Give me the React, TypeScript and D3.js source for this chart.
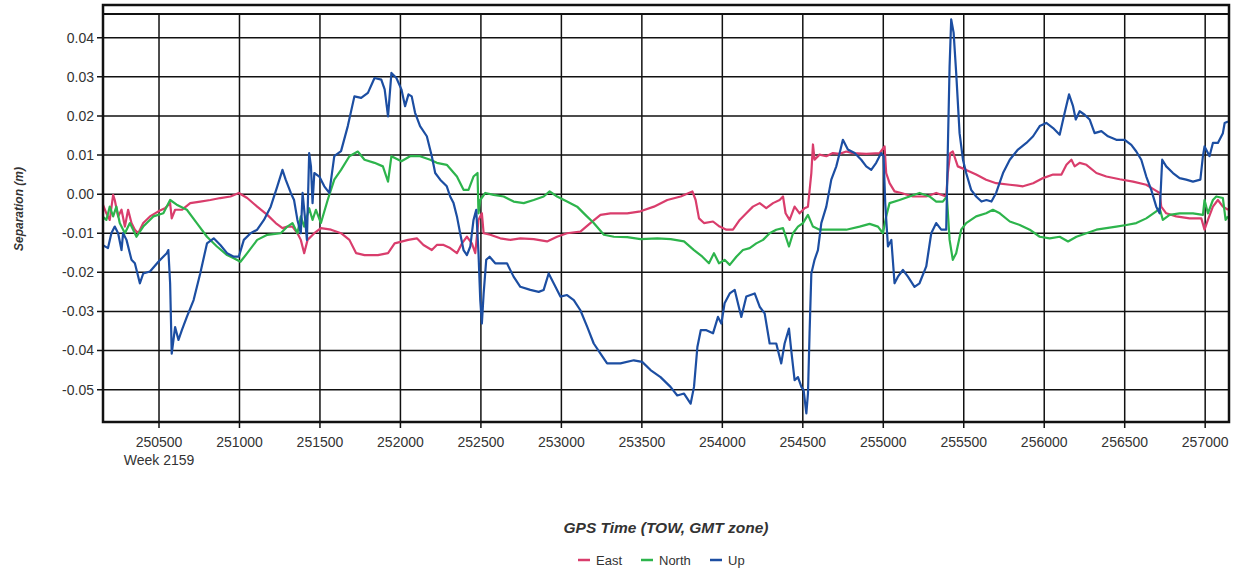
import React from "react";
import * as d3 from "d3";

const eastData: [number, number][] = [
  [250148,-0.0023],[250173,-0.0049],[250194,-0.0066],[250215,-0.0002],[250225,-0.0015],[250246,-0.0057],
  [250267,-0.004],[250288,-0.0083],[250308,-0.004],[250329,-0.0074],[250350,-0.0091],[250371,-0.010],
  [250402,-0.0074],[250444,-0.0057],[250496,-0.0044],[250537,-0.0036],[250569,-0.0023],[250579,-0.0062],
  [250600,-0.004],[250642,-0.004],[250694,-0.0023],[250756,-0.0019],[250819,-0.0015],[250881,-0.001],
  [250944,-0.0006],[250996,0.0003],[251048,-0.001],[251110,-0.0032],[251173,-0.0053],[251225,-0.0074],
  [251267,-0.0087],[251298,-0.0083],[251329,-0.0083],[251360,-0.010],[251381,-0.0117],[251402,-0.0151],
  [251423,-0.0117],[251465,-0.010],[251506,-0.0087],[251569,-0.0091],[251631,-0.010],[251683,-0.0117],
  [251725,-0.0151],[251777,-0.0156],[251860,-0.0156],[251923,-0.0151],[251964,-0.0126],[252048,-0.0117],
  [252102,-0.0113],[252143,-0.013],[252195,-0.0143],[252226,-0.013],[252268,-0.013],[252309,-0.0138],
  [252351,-0.0151],[252382,-0.0126],[252413,-0.0109],[252444,-0.0126],[252465,-0.0151],[252485,-0.0066],
  [252506,-0.0049],[252517,-0.010],[252558,-0.0104],[252620,-0.0113],[252683,-0.0117],[252745,-0.0113],
  [252828,-0.0115],[252911,-0.0121],[252973,-0.0109],[253035,-0.010],[253118,-0.0096],[253180,-0.0074],
  [253243,-0.0053],[253305,-0.0049],[253409,-0.0049],[253492,-0.0044],[253575,-0.0032],[253658,-0.0015],
  [253741,-0.0006],[253814,0.0007],[253834,-0.0015],[253855,-0.0062],[253886,-0.0074],[253942,-0.007],
  [253983,-0.0083],[254025,-0.0091],[254066,-0.0091],[254108,-0.0066],[254149,-0.0049],[254190,-0.0032],
  [254232,-0.0023],[254273,-0.0036],[254315,-0.0023],[254356,-0.0015],[254377,-0.0006],[254393,-0.0049],
  [254418,-0.0066],[254449,-0.0032],[254480,-0.0049],[254511,-0.0036],[254532,-0.0032],[254553,0.0054],
  [254563,0.0127],[254573,0.0088],[254604,0.0101],[254646,0.0097],[254687,0.0105],[254729,0.0103],
  [254770,0.0109],[254811,0.0105],[254894,0.0103],[254977,0.0105],[255008,0.0122],[255018,0.0054],
  [255039,0.0028],[255070,0.0007],[255112,0.0003],[255184,-0.0006],[255267,-0.0006],[255329,0.0003],
  [255391,-0.0006],[255401,0.0054],[255416,0.0105],[255432,0.0109],[255463,0.0071],[255515,0.0062],
  [255577,0.005],[255639,0.0037],[255701,0.0028],[255786,0.0024],[255868,0.002],[255931,0.0028],
  [255993,0.0041],[256055,0.005],[256107,0.005],[256138,0.0075],[256169,0.0088],[256189,0.0071],
  [256220,0.008],[256262,0.0075],[256324,0.0054],[256386,0.0045],[256469,0.0038],[256552,0.0032],
  [256634,0.0024],[256686,0.0011],[256717,0.0003],[256727,-0.0032],[256758,-0.0049],[256820,-0.0057],
  [256903,-0.0062],[256976,-0.0062],[256996,-0.0091],[257017,-0.0066],[257048,-0.0032],[257079,-0.0015],
  [257110,-0.0032],[257142,-0.004],
];

const northData: [number, number][] = [
  [250148,-0.0057],[250173,-0.0066],[250194,-0.0032],[250215,-0.0057],[250235,-0.0032],[250256,-0.0074],
  [250288,-0.010],[250319,-0.0074],[250360,-0.0109],[250402,-0.0083],[250465,-0.0057],[250527,-0.0049],
  [250569,-0.0015],[250610,-0.0027],[250673,-0.004],[250735,-0.0074],[250798,-0.0109],[250860,-0.0134],
  [250923,-0.0156],[250965,-0.0164],[251006,-0.0173],[251048,-0.0151],[251110,-0.0117],[251173,-0.0104],
  [251256,-0.010],[251298,-0.0083],[251329,-0.0074],[251360,-0.010],[251381,-0.0057],[251402,-0.0083],
  [251433,-0.0036],[251454,-0.0066],[251475,-0.004],[251506,-0.0074],[251548,-0.0015],[251589,0.0037],
  [251631,0.0062],[251683,0.0097],[251735,0.0109],[251777,0.0088],[251839,0.008],[251891,0.0071],
  [251923,0.0032],[251944,0.0097],[252006,0.0084],[252060,0.0097],[252122,0.0097],[252185,0.0088],
  [252226,0.008],[252288,0.0075],[252351,0.0045],[252392,0.0011],[252423,0.0011],[252454,0.0045],
  [252479,0.0054],[252485,-0.0049],[252496,-0.0015],[252527,0.0003],[252579,-0.0002],[252641,-0.0006],
  [252703,-0.0019],[252766,-0.0023],[252828,-0.0015],[252890,-0.0006],[252927,0.0007],[252973,-0.0006],
  [253035,-0.0019],[253098,-0.0032],[253149,-0.0053],[253201,-0.0074],[253264,-0.0104],[253326,-0.0109],
  [253409,-0.011],[253492,-0.0115],[253596,-0.0113],[253679,-0.0115],[253762,-0.0121],[253824,-0.0143],
  [253876,-0.016],[253917,-0.0177],[253948,-0.0151],[253979,-0.0177],[254014,-0.0168],[254046,-0.0181],
  [254087,-0.016],[254128,-0.0143],[254170,-0.0138],[254211,-0.0126],[254253,-0.0117],[254294,-0.010],
  [254335,-0.0091],[254377,-0.0087],[254414,-0.0134],[254439,-0.010],[254470,-0.0083],[254501,-0.0074],
  [254532,-0.0053],[254563,-0.0083],[254604,-0.0091],[254687,-0.0091],[254770,-0.0091],[254853,-0.0083],
  [254915,-0.0076],[254967,-0.0083],[254998,-0.010],[255018,-0.0057],[255039,-0.0023],[255101,-0.0015],
  [255163,-0.0006],[255225,0.0003],[255287,-0.0006],[255329,-0.0019],[255370,-0.0019],[255395,-0.0006],
  [255412,-0.0117],[255432,-0.0168],[255453,-0.0151],[255484,-0.0091],[255515,-0.0074],[255577,-0.0057],
  [255639,-0.0049],[255681,-0.004],[255724,-0.0049],[255786,-0.007],[255848,-0.0079],[255910,-0.0091],
  [255972,-0.0109],[256034,-0.0113],[256096,-0.0109],[256148,-0.0121],[256200,-0.0109],[256262,-0.010],
  [256324,-0.0091],[256386,-0.0087],[256448,-0.0083],[256510,-0.0079],[256572,-0.0074],[256634,-0.0062],
  [256696,-0.0044],[256717,-0.0036],[256737,-0.0066],[256779,-0.0053],[256841,-0.0049],[256924,-0.0049],
  [256986,-0.0053],[256996,-0.0015],[257017,-0.0049],[257048,-0.0015],[257069,-0.0006],[257110,-0.001],
  [257127,-0.0066],[257142,-0.0057],
];

const upData: [number, number][] = [
  [250148,-0.013],[250183,-0.0138],[250204,-0.010],[250225,-0.0083],[250246,-0.010],[250267,-0.0143],
  [250277,-0.010],[250298,-0.0117],[250329,-0.0168],[250350,-0.0177],[250381,-0.0228],[250402,-0.0203],
  [250444,-0.0198],[250496,-0.0173],[250548,-0.0151],[250558,-0.0143],[250569,-0.0228],[250579,-0.0408],
  [250600,-0.034],[250621,-0.0373],[250642,-0.0348],[250673,-0.0314],[250715,-0.0271],[250756,-0.0203],
  [250798,-0.0126],[250840,-0.0113],[250881,-0.013],[250923,-0.0151],[250965,-0.016],[250996,-0.016],
  [251027,-0.0117],[251069,-0.010],[251110,-0.0091],[251152,-0.0066],[251194,-0.0032],[251235,0.002],
  [251267,0.0062],[251287,0.0037],[251319,0.0003],[251339,-0.0015],[251360,-0.0066],[251381,-0.010],
  [251392,0.0003],[251406,-0.0057],[251419,-0.0117],[251433,0.0105],[251444,0.0071],[251454,-0.0023],
  [251465,0.0054],[251496,0.0045],[251527,0.002],[251558,0.0003],[251589,0.0097],[251631,0.011],
  [251673,0.0174],[251714,0.025],[251756,0.0246],[251798,0.0259],[251839,0.0297],[251881,0.0293],
  [251902,0.0268],[251923,0.0199],[251944,0.031],[251975,0.0297],[252006,0.0268],[252029,0.0225],
  [252050,0.0255],[252070,0.025],[252091,0.0208],[252122,0.0174],[252164,0.0148],[252195,0.0097],
  [252216,0.0054],[252247,0.0037],[252288,0.002],[252309,-0.0006],[252330,-0.0023],[252351,-0.0057],
  [252371,-0.010],[252392,-0.0143],[252413,-0.0156],[252434,-0.0134],[252454,-0.0066],[252471,-0.004],
  [252485,-0.0151],[252496,-0.0271],[252506,-0.0331],[252517,-0.0254],[252533,-0.0168],[252554,-0.016],
  [252589,-0.0177],[252620,-0.0177],[252662,-0.0177],[252703,-0.0211],[252745,-0.0237],[252807,-0.0245],
  [252859,-0.025],[252890,-0.0245],[252921,-0.0203],[252952,-0.0228],[252994,-0.0262],[253035,-0.0258],
  [253077,-0.0271],[253118,-0.0297],[253160,-0.0339],[253201,-0.0382],[253243,-0.0408],[253284,-0.0433],
  [253367,-0.0433],[253450,-0.0425],[253502,-0.0429],[253554,-0.045],[253616,-0.0468],[253678,-0.0493],
  [253720,-0.0515],[253762,-0.051],[253803,-0.0536],[253824,-0.0493],[253845,-0.0391],[253866,-0.0348],
  [253901,-0.0348],[253942,-0.0356],[253973,-0.0314],[253994,-0.0331],[254014,-0.0279],[254046,-0.0254],
  [254077,-0.0245],[254097,-0.0279],[254118,-0.0314],[254149,-0.0262],[254201,-0.0254],[254232,-0.0288],
  [254263,-0.0305],[254294,-0.0382],[254335,-0.0382],[254366,-0.0433],[254387,-0.0382],[254414,-0.0344],
  [254428,-0.0399],[254449,-0.0476],[254470,-0.0468],[254491,-0.0493],[254505,-0.0501],[254522,-0.0561],
  [254532,-0.051],[254542,-0.0356],[254553,-0.0203],[254573,-0.0168],[254594,-0.0143],[254615,-0.0074],
  [254646,-0.0032],[254677,0.0037],[254708,0.0071],[254729,0.0105],[254749,0.0139],[254780,0.0114],
  [254822,0.0105],[254863,0.0088],[254894,0.0071],[254925,0.0062],[254956,0.008],[254987,0.0105],
  [255002,0.0097],[255012,-0.0023],[255029,-0.0134],[255050,-0.0117],[255070,-0.0228],[255091,-0.0211],
  [255122,-0.0194],[255153,-0.0211],[255194,-0.0237],[255225,-0.0228],[255267,-0.0185],[255298,-0.010],
  [255329,-0.0074],[255360,-0.0091],[255391,-0.0091],[255401,0.0114],[255412,0.0327],[255422,0.0447],
  [255437,0.0413],[255453,0.031],[255474,0.0156],[255495,0.0088],[255515,0.0054],[255546,0.0011],
  [255577,-0.0006],[255610,-0.0019],[255641,-0.0015],[255672,-0.0019],[255701,0.0003],[255744,0.0054],
  [255786,0.0088],[255837,0.0114],[255889,0.0131],[255931,0.0148],[255972,0.0174],[256013,0.0182],
  [256055,0.0169],[256096,0.0152],[256127,0.0208],[256154,0.0255],[256179,0.0225],[256196,0.0191],
  [256220,0.0212],[256251,0.0203],[256282,0.0191],[256313,0.0156],[256355,0.0161],[256396,0.0148],
  [256448,0.0139],[256500,0.0139],[256541,0.0126],[256572,0.0109],[256603,0.0088],[256634,0.0045],
  [256665,0.0011],[256696,-0.0032],[256717,-0.0049],[256733,0.0088],[256758,0.0071],[256800,0.0054],
  [256841,0.0041],[256882,0.0037],[256924,0.0032],[256970,0.0037],[256986,0.0097],[256996,0.0122],
  [257017,0.0105],[257027,0.0097],[257048,0.0131],[257079,0.0131],[257110,0.0156],[257121,0.0182],
  [257142,0.0186],
];

const xTicks = [250500, 251000, 251500, 252000, 252500, 253000, 253500, 254000, 254500, 255000, 255500, 256000, 256500, 257000];
const yTicks = [0.04, 0.03, 0.02, 0.01, 0.0, -0.01, -0.02, -0.03, -0.04, -0.05];
const weekLabel = "Week 2159";
const xTitle = "GPS Time (TOW, GMT zone)";
const yTitle = "Separation (m)";
const seriesNames = ["East", "North", "Up"];
const seriesColors = ["#d93d6c", "#2db44c", "#1c4ea2"];

const W = 1243, H = 571;
const L = 103, R = 1229, T = 14, B = 422, OUTER_T = 5;
const FONT = "'Liberation Sans', Arial, sans-serif";

export default function App() {
  const x = d3.scaleLinear().domain([250152, 257148]).range([L, R]);
  const y = d3.scaleLinear().domain([-0.05828, 0.04607]).range([B, T]);
  const line = d3.line<[number, number]>().x(d => x(d[0])).y(d => y(d[1]));
  const fmt = d3.formatLocale({ decimal: ".", thousands: ",", grouping: [3], currency: ["", ""], minus: "-" }).format(".2f");
  const series = [eastData, northData, upData];
  const legendX = [578, 641, 710];
  return (
    <svg width={W} height={H} style={{ position: "absolute", left: 0, top: 0, background: "#fff" }} fontFamily={FONT}>
      <defs>
        <clipPath id="plot"><rect x={L} y={T} width={R - L} height={B - T} /></clipPath>
      </defs>
      <rect x={0} y={0} width={W} height={H} fill="#fff" />
      {xTicks.map(t => (
        <line key={"gx" + t} x1={x(t)} x2={x(t)} y1={T} y2={B + 6} stroke="#111" strokeWidth={1.5} />
      ))}
      {yTicks.map(t => (
        <line key={"gy" + t} x1={L - 6} x2={R} y1={y(t)} y2={y(t)} stroke="#111" strokeWidth={1.5} />
      ))}
      <g clipPath="url(#plot)">
        {series.map((s, i) => (
          <path key={i} d={line(s) || ""} fill="none" stroke={seriesColors[i]} strokeWidth={2.2} strokeLinejoin="round" />
        ))}
      </g>
      <rect x={L} y={OUTER_T} width={R - L} height={B - OUTER_T} fill="none" stroke="#111" strokeWidth={2.5} />
      <line x1={L} x2={R} y1={T} y2={T} stroke="#111" strokeWidth={2} />
      {yTicks.map(t => (
        <text key={"ty" + t} x={L - 9} y={y(t)} dy="0.35em" textAnchor="end" fontSize={14} fill="#333">{fmt(t)}</text>
      ))}
      {xTicks.map(t => (
        <text key={"tx" + t} x={x(t)} y={447} textAnchor="middle" fontSize={14} fill="#333">{t}</text>
      ))}
      <text x={x(xTicks[0])} y={465} textAnchor="middle" fontSize={14} fill="#333">{weekLabel}</text>
      <text x={666} y={533} textAnchor="middle" fontSize={15.5} fontStyle="italic" fontWeight="bold" fill="#333">{xTitle}</text>
      <text transform={`translate(23,209) rotate(-90)`} textAnchor="middle" fontSize={12} fontStyle="italic" fontWeight="bold" fill="#333">{yTitle}</text>
      {seriesNames.map((n, i) => (
        <g key={n}>
          <line x1={legendX[i]} x2={legendX[i] + 12} y1={560} y2={560} stroke={seriesColors[i]} strokeWidth={2.5} />
          <text x={legendX[i] + 18} y={564.5} fontSize={13} fill="#333">{n}</text>
        </g>
      ))}
    </svg>
  );
}
